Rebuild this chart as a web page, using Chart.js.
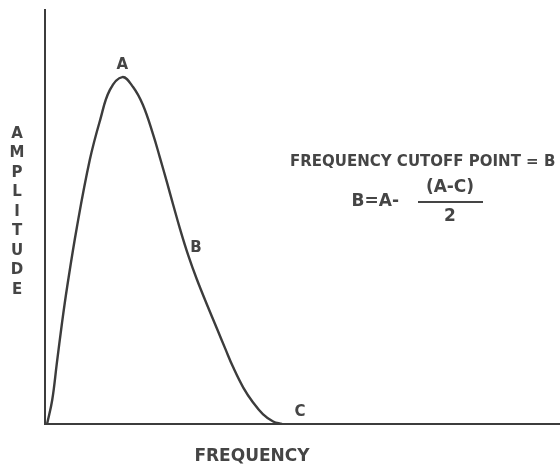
<!DOCTYPE html>
<html>
<head>
<meta charset="utf-8">
<script src="https://cdn.jsdelivr.net/npm/chart.js@4/dist/chart.umd.min.js"></script>
<style>
  html, body { margin: 0; padding: 0; background: #fff; }
  #wrap { width: 560px; height: 467px; position: relative; }
</style>
</head>
<body>
<div id="wrap"><canvas id="my-chart"></canvas></div>
<script>
// curve (frequency 0-100, amplitude 0-100)
let freq = [0.4, 1.4, 2.3, 3.3, 4.3, 6.2, 8.7, 10.7, 12.6, 15.0, 17.1, 19.0, 21.0, 22.3, 23.7, 24.9, 26.2, 27.8, 29.5, 31.5, 33.4, 35.0, 36.5, 38.5, 40.4, 42.3, 44.3, 46.0];
let amplitude = [0, 5.8, 14.7, 24.4, 33.1, 47.6, 63.8, 73.4, 80.7, 83.8, 81.4, 77.1, 69.9, 64.4, 58.3, 52.9, 47.2, 40.8, 34.9, 28.7, 23.0, 18.2, 13.8, 8.8, 5.2, 2.4, 0.6, 0];
let pointNames = ['A', 'B', 'C'];
let pointIndex = [9, 17, 27];

let ink = '#3c3c3c';
let textInk = '#454545';
let font = '"DejaVu Sans", sans-serif';

let labelsPlugin = {
    id: 'labels',
    afterDraw(chart) {
        let ctx = chart.ctx;
        let xs = chart.scales.x, ys = chart.scales.y;
        let area = chart.chartArea;
        ctx.save();
        ctx.fillStyle = textInk;
        ctx.textBaseline = 'middle';

        // A, B, C beside their points
        ctx.font = 'bold 15px ' + font;
        let offsets = [[0, -12, 'center'], [2, -7, 'left'], [18, -12, 'center']];
        pointNames.forEach((name, i) => {
            let k = pointIndex[i];
            let px = xs.getPixelForValue(freq[k]);
            let py = ys.getPixelForValue(amplitude[k]);
            ctx.textAlign = offsets[i][2];
            ctx.fillText(name, px + offsets[i][0], py + offsets[i][1]);
        });

        // axis titles
        ctx.textAlign = 'center';
        ctx.font = 'bold 17px ' + font;
        ctx.fillText('FREQUENCY', area.left + 207, area.bottom + 33, 122);
        ctx.font = 'bold 15px ' + font;
        'AMPLITUDE'.split('').forEach((ch, i) => {
            ctx.fillText(ch, area.left - 28, area.top + 124 + i * 19.5);
        });

        // formula
        ctx.font = 'bold 15px ' + font;
        ctx.textAlign = 'left';
        ctx.fillText('FREQUENCY CUTOFF POINT = B', area.left + 245, area.top + 152, 267);
        ctx.font = 'bold 17px ' + font;
        ctx.textAlign = 'right';
        ctx.fillText('B=A-', area.left + 354, area.top + 192);
        ctx.textAlign = 'center';
        ctx.fillText('(A-C)', area.left + 405, area.top + 178);
        ctx.fillText('2', area.left + 405, area.top + 207);
        ctx.strokeStyle = textInk;
        ctx.lineWidth = 2;
        ctx.beginPath();
        ctx.moveTo(area.left + 373, area.top + 192);
        ctx.lineTo(area.left + 438, area.top + 192);
        ctx.stroke();
        ctx.restore();
    }
};

let chart = new Chart(document.getElementById('my-chart').getContext('2d'), {
    type: 'line',
    data: {
        datasets: [{
            data: freq.map((f, i) => ({ x: f, y: amplitude[i] })),
            borderColor: ink,
            borderWidth: 2.4,
            pointRadius: 0,
            fill: false,
            tension: 0.4
        }]
    },
    options: {
        responsive: true,
        maintainAspectRatio: false,
        animation: false,
        layout: { padding: { left: 37, top: 10, right: 0, bottom: 35 } },
        plugins: {
            legend: { display: false },
            tooltip: { enabled: false }
        },
        scales: {
            x: {
                type: 'linear',
                min: 0,
                max: 100,
                grid: { display: false },
                ticks: { display: false },
                border: { display: true, color: ink, width: 2 }
            },
            y: {
                min: 0,
                max: 100,
                grid: { display: false },
                ticks: { display: false },
                border: { display: true, color: ink, width: 2 }
            }
        }
    },
    plugins: [labelsPlugin]
});
</script>
</body>
</html>
